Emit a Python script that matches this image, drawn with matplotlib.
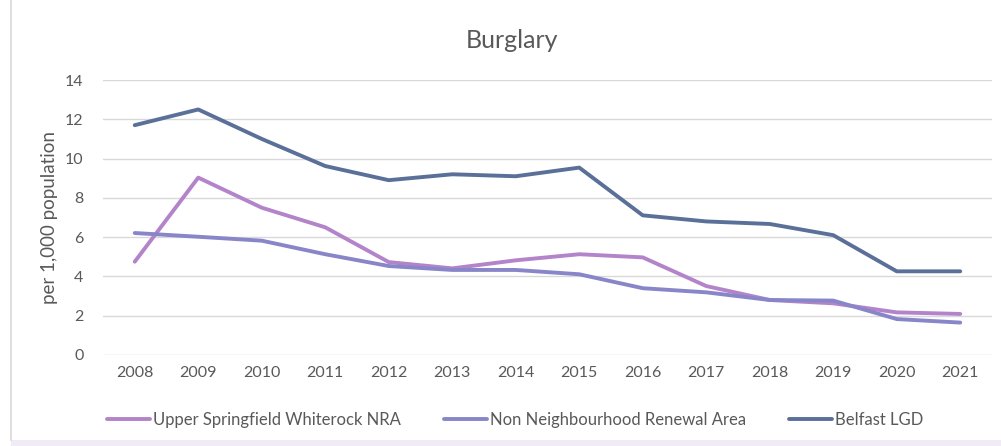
import matplotlib
matplotlib.use("Agg")
import matplotlib.pyplot as plt
from matplotlib.patches import Rectangle
from matplotlib.lines import Line2D

years = ["2008", "2009", "2010", "2011", "2012", "2013", "2014",
         "2015", "2016", "2017", "2018", "2019", "2020", "2021"]
upper_springfield = [4.75, 9.03, 7.5, 6.5, 4.73, 4.41, 4.82, 5.13, 4.97, 3.51, 2.8, 2.63, 2.17, 2.09]
non_nra = [6.21, 6.02, 5.82, 5.13, 4.53, 4.33, 4.33, 4.11, 3.4, 3.19, 2.8, 2.77, 1.83, 1.65]
belfast = [11.7, 12.5, 11.0, 9.62, 8.9, 9.2, 9.1, 9.54, 7.11, 6.8, 6.67, 6.1, 4.26, 4.26]

series_names = ["Upper Springfield Whiterock NRA", "Non Neighbourhood Renewal Area", "Belfast LGD"]
colors = ["#B384C9", "#8886C9", "#5A7099"]

plt.rcParams['font.family'] = ['Lato', 'DejaVu Sans']

W, H = 1001, 446
fig = plt.figure(figsize=(W/100, H/100), dpi=100)
# frame hints: left border and lavender bottom band
fig.add_artist(Line2D([11/W, 11/W], [6/H, 1.0], transform=fig.transFigure,
                      color="#D9D9D9", linewidth=1.2))
fig.patches.append(Rectangle((11/W, 0), 1 - 11/W, 6/H, transform=fig.transFigure,
                             facecolor="#F1EBF7", edgecolor="none"))

ax = fig.add_axes([103/W, 1-355/H, (992-103)/W, (355-80)/H])

x = list(range(len(years)))
for vals, name, c in zip([upper_springfield, non_nra, belfast], series_names, colors):
    ax.plot(x, vals, color=c, linewidth=2.8, label=name, solid_capstyle='round')

ax.set_xlim(-0.5, len(years) - 0.5)
ax.set_ylim(0, 14)
ax.set_yticks(range(0, 15, 2))
ax.set_xticks(x)
ax.set_xticklabels(years)
ax.grid(axis='y', color="#D9D9D9", linewidth=1)
ax.set_axisbelow(True)
for s in ax.spines.values():
    s.set_visible(False)
ax.tick_params(length=0, labelsize=11.5, colors="#595959", pad=8)
ax.tick_params(axis='y', pad=14)

fig.text(50/W, 1-217/H, "per 1,000 population", rotation=90, ha='center', va='center',
         fontsize=13.5, color="#595959")

fig.text(512/W, 1-40/H, "Burglary", ha='center', va='center', fontsize=18, color="#595959")

leg = fig.legend(loc='center', bbox_to_anchor=(515/W, 1-420/H), ncol=3, frameon=False,
                 fontsize=12, handlelength=2.6, handletextpad=0.15, columnspacing=2.6)
for t in leg.get_texts():
    t.set_color("#595959")

fig.savefig("out.png", dpi=100)
